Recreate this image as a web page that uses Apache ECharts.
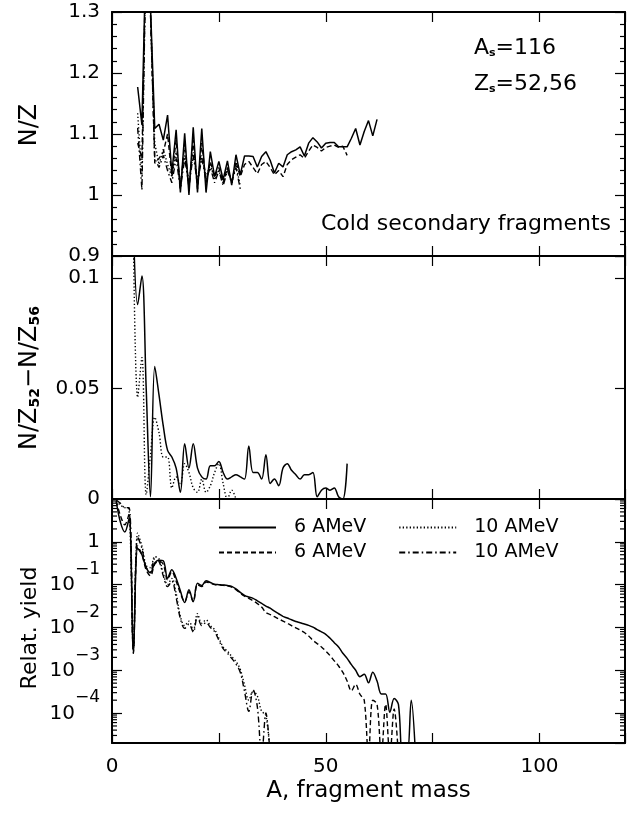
<!DOCTYPE html>
<html><head><meta charset="utf-8">
<script src="https://cdn.jsdelivr.net/npm/echarts@6/dist/echarts.min.js"></script>
<style>html,body{margin:0;padding:0;background:#fff}#c{width:641px;height:820px}</style>
</head><body><div id="c"></div>
<script>
// ---- data (fragment mass A) ----
const massA = [1,2,3,4,5,6,7,8,9,10,11,12,13,14,15,16,17,18,19,20,21,22,23,24,25,26,27,28,29,30,
  31,32,33,34,35,36,37,38,39,40,41,42,43,44,45,46,47,48,49,50,51,52,53,54,55,56,57,58,59,60,
  61,62,63,64,65,66,67,68,69,70,71];

// Panel 1: N/Z of cold secondary fragments
const nz6aStart = 6;
const nz6a = [1.177,1.115,1.42,1.31,1.109,1.116,1.090,1.131,1.036,1.107,
  1.004,1.101,1.000,1.111,1.004,1.109,1.004,1.071,1.030,1.055,
  1.025,1.056,1.016,1.066,1.033,1.064,1.064,1.063,1.046,1.063,
  1.071,1.057,1.036,1.052,1.046,1.066,1.071,1.074,1.079,1.064,
  1.085,1.094,1.087,1.077,1.085,1.086,1.086,1.079,1.079,1.079,
  1.093,1.109,1.082,1.104,1.122,1.097,1.124];
const nz6bStart = 6;
const nz6b = [1.085,1.06,1.42,1.30,1.052,1.06,1.07,1.10,1.03,1.09,
  1.01,1.085,1.01,1.09,1.01,1.085,1.02,1.055,1.03,1.045,
  1.02,1.045,1.02,1.055,1.03,1.05,1.055,1.045,1.035,1.05,
  1.055,1.045,1.033,1.04,1.03,1.05,1.058,1.062,1.066,1.06,
  1.072,1.082,1.078,1.072,1.078,1.08,1.082,1.078,1.08,1.065];
const nz10aStart = 6;
const nz10a = [1.134,1.03,1.42,1.30,1.085,1.05,1.075,1.05,1.03,1.07,
  1.02,1.065,1.02,1.07,1.025,1.065,1.03,1.05,1.025,1.04,
  1.02,1.045,1.02,1.05,1.015];
const nz10bStart = 6;
const nz10b = [1.11,1.008,1.42,1.30,1.06,1.045,1.065,1.04,1.02,1.06,
  1.01,1.06,1.015,1.065,1.02,1.06,1.025,1.045,1.02,1.04,
  1.015,1.04,1.02,1.045,1.01];

// Panel 2: N/Z(52) - N/Z(56)
const dnz6Start = 5;
const dnz6 = [0.125,0.088,0.101,0.05,0.001,0.060,0.047,0.033,0.022,0.019,
  0.014,0.003,0.025,0.014,0.025,0.014,0.010,0.009,0.015,0.015,
  0.017,0.012,0.009,0.010,0.011,0.010,0.009,0.024,0.012,0.012,
  0.009,0.020,0.007,0.009,0.006,0.014,0.016,0.013,0.011,0.009,
  0.011,0.011,0.012,0.001,0.004,0.005,0.004,0.005,0.001,0.000,0.016];
const dnz10Start = 5;
const dnz10 = [0.12,0.046,0.064,0.002,0.02,0.037,0.03,0.019,0.019,0.005,
  0.01,0.007,0.016,0.012,0.005,0.003,0.009,0.003,0.006,0.012,
  0.016,0.007,0.000,0.004,0.000];

// Panel 3: relative yield
const y6aStart = 1;
const y6a = [8.7,2.8,1.7,3.5,2.5e-3,0.71,0.5,0.25,0.19,0.32,
  0.37,0.36,0.14,0.224,0.141,0.071,0.038,0.076,0.040,0.107,
  0.0955,0.123,0.112,0.102,0.100,0.098,0.0955,0.0912,0.0794,0.0661,
  0.0562,0.0513,0.0479,0.0417,0.0363,0.0316,0.0282,0.0240,0.0209,0.0182,
  0.0166,0.0151,0.0138,0.0129,0.0120,0.0112,0.0102,0.0089,0.0079,0.0069,
  0.0056,0.0044,0.0035,0.0025,0.0019,0.00135,0.0010,7.1e-4,8.1e-4,5.1e-4,
  9.0e-4,5.6e-4,2.8e-4,2.8e-4,1.05e-4,2.2e-4,1.6e-4,1e-5,1e-5,2.0e-4,1e-5];
const y6bStart = 1;
const y6b = [9.0,4.0,2.5,4.5,2.5e-3,0.80,0.50,0.22,0.16,0.30,
  0.35,0.30,0.13,0.20,0.12,0.063,0.040,0.068,0.040,0.10,
  0.090,0.115,0.108,0.100,0.098,0.096,0.093,0.088,0.076,0.063,
  0.054,0.048,0.042,0.036,0.030,0.0224,0.020,0.0178,0.0158,0.0141,
  0.0126,0.011,0.0098,0.0087,0.0076,0.0063,0.0050,0.0042,0.0035,0.0028,
  0.0022,0.00166,0.00126,8.9e-4,5.6e-4,3.3e-4,4.7e-4,2.75e-4,2.0e-4,1e-5,
  2.0e-4,1.6e-4,1e-5,1.6e-4,1e-5,1.25e-4,1e-5];
const y10aStart = 1;
const y10a = [9.0,7.1,6.3,5.6,3.2e-3,1.6,0.8,0.28,0.25,0.45,
  0.40,0.18,0.10,0.14,0.063,0.018,0.011,0.014,0.0085,0.021,
  0.0126,0.015,0.011,0.0089,0.0056,0.0035,0.0028,0.0021,0.0016,0.00105,
  4.5e-4,2.0e-4,3.2e-4,2.5e-4,1.1e-4,9e-5,1e-5];
const y10bStart = 1;
const y10b = [9.5,7.9,6.3,6.3,3.2e-3,1.3,0.7,0.25,0.2,0.40,
  0.35,0.16,0.09,0.12,0.05,0.016,0.0095,0.012,0.0078,0.018,
  0.011,0.013,0.010,0.008,0.005,0.0032,0.0025,0.0019,0.0014,9e-4,
  3.2e-4,1.1e-4,3.5e-4,1.4e-4,1e-5,1e-4,1e-5];

const xTickLabels = [0, 50, 100];
// minor tick positions of the logarithmic yield axis (2..9 x 10^n)
const logMinorTicks = [3e-5,4e-5,5e-5,6e-5,7e-5,8e-5,9e-5,
  2e-4,3e-4,4e-4,5e-4,6e-4,7e-4,8e-4,9e-4,
  2e-3,3e-3,4e-3,5e-3,6e-3,7e-3,8e-3,9e-3,
  0.02,0.03,0.04,0.05,0.06,0.07,0.08,0.09,
  0.2,0.3,0.4,0.5,0.6,0.7,0.8,0.9,
  2,3,4,5,6,7,8,9];

// ---- helpers ----
function pairs(start, vals) {
  const i0 = massA.indexOf(start);
  return vals.map((v, i) => [massA[i0 + i], v]);
}
const FONT = 'DejaVu Sans';
const BLACK = '#000';
const txt = { color: BLACK, fontFamily: FONT, fontSize: 20 };
const styles = {
  a6: { color: BLACK, width: 1.5, type: 'solid' },
  b6: { color: BLACK, width: 1.4, type: [5, 3] },
  a10: { color: BLACK, width: 1.4, type: [1.3, 2.2] },
  b10: { color: BLACK, width: 1.4, type: [6, 3, 1.5, 3] }
};
const seriesName = { a6: '6 AMeV a', b6: '6 AMeV b', a10: '10 AMeV a', b10: '10 AMeV b' };

function xAxisPair(gi) {
  const base = {
    type: 'value', gridIndex: gi, min: 0, max: 120, interval: 25,
    axisLine: { show: true, onZero: false, lineStyle: { color: BLACK, width: 2 } },
    axisTick: { show: true, inside: true, length: 10, lineStyle: { color: BLACK, width: 1.2 } },
    splitLine: { show: false }
  };
  const bottom = Object.assign({}, base, { position: 'bottom', axisLabel: { show: false } });
  if (gi === 2) {
    bottom.axisLabel = Object.assign({ show: true, margin: 14 }, txt, {
      formatter: v => xTickLabels.indexOf(v) >= 0 ? String(v) : ''
    });
    bottom.name = 'A, fragment mass';
    bottom.nameLocation = 'middle';
    bottom.nameGap = 37;
    bottom.nameTextStyle = Object.assign({}, txt, { fontSize: 23 });
  }
  const top = Object.assign({}, base, { position: 'top', axisLabel: { show: false } });
  return [bottom, top];
}

function yAxisPair(gi, extra) {
  const base = Object.assign({
    gridIndex: gi,
    axisLine: { show: true, onZero: false, lineStyle: { color: BLACK, width: 2 } },
    axisTick: { show: true, inside: true, length: 10, lineStyle: { color: BLACK, width: 1.2 } },
    splitLine: { show: false }
  }, extra);
  const left = Object.assign({}, base, { position: 'left',
    axisLabel: Object.assign({ show: true, margin: 12 }, txt, extra.axisLabel || {}) });
  const right = Object.assign({}, base, { position: 'right', axisLabel: { show: false } });
  return [left, right];
}

function lineSeries(key, gi, data, smooth) {
  return {
    type: 'line', name: seriesName[key], xAxisIndex: gi * 2, yAxisIndex: gi * 2,
    data: data, showSymbol: false, symbol: 'none', smooth: smooth, clip: true,
    lineStyle: styles[key], itemStyle: { color: BLACK }, animation: false,
    emphasis: { disabled: true }
  };
}

const logLabel = v => {
  const e = Math.round(Math.log10(v));
  if (e === 0) return '1';
  return '{b|10}{s|' + (e < 0 ? '\u2212' : '') + Math.abs(e) + '}';
};

const legendCommon = {
  left: 213, itemWidth: 57, itemHeight: 12, itemGap: 32,
  formatter: n => n.replace(/ [ab]$/, ''), selectedMode: false,
  itemStyle: { opacity: 0 },
  textStyle: Object.assign({}, txt, { fontSize: 19, padding: [0, 0, 0, 13] })
};

const subStyle = { fontFamily: FONT, fontSize: 14, fontWeight: 'bold', fill: BLACK, verticalAlign: 'bottom', padding: [9, 0, 0, 0] };
const smallSub = { fontFamily: FONT, fontSize: 11, fontWeight: 'bold', fill: BLACK, verticalAlign: 'bottom', padding: [8, 0, 0, 0] };

const option = {
  animation: false,
  backgroundColor: '#fff',
  grid: [
    { left: 112, right: 16, top: 12, height: 244 },
    { left: 112, right: 16, top: 256, height: 243 },
    { left: 112, right: 16, top: 499, height: 244 }
  ],
  xAxis: [].concat(xAxisPair(0), xAxisPair(1), xAxisPair(2)),
  yAxis: [].concat(
    yAxisPair(0, { type: 'value', min: 0.9, max: 1.3, interval: 0.1,
      minorTick: { show: true, splitNumber: 5, length: 5, lineStyle: { color: BLACK, width: 1.2 } } }),
    yAxisPair(1, { type: 'value', min: 0, max: 0.11, interval: 0.05,
      axisLabel: { showMaxLabel: false } }),
    yAxisPair(2, { type: 'log', logBase: 10, min: 2e-5, max: 10,
      minorTick: { show: false },
      axisLabel: { showMaxLabel: false, showMinLabel: false, formatter: logLabel,
        rich: {
          b: { fontFamily: FONT, fontSize: 20, color: BLACK, verticalAlign: 'bottom', padding: [0, 0, 13, 0] },
          s: { fontFamily: FONT, fontSize: 17, color: BLACK, verticalAlign: 'top', padding: [0, 0, 30, 0] }
        } } })
  ),
  legend: [
    Object.assign({ data: ['6 AMeV a', '10 AMeV a'], top: 513 }, legendCommon),
    Object.assign({ data: ['6 AMeV b', '10 AMeV b'], top: 538 }, legendCommon)
  ],
  series: [
    lineSeries('a6', 0, pairs(nz6aStart, nz6a), false),
    lineSeries('b6', 0, pairs(nz6bStart, nz6b), false),
    lineSeries('a10', 0, pairs(nz10aStart, nz10a), false),
    lineSeries('b10', 0, pairs(nz10bStart, nz10b), false),
    lineSeries('a6', 1, pairs(dnz6Start, dnz6), 0.35),
    lineSeries('a10', 1, pairs(dnz10Start, dnz10), 0.35),
    lineSeries('a6', 2, pairs(y6aStart, y6a), 0.35),
    lineSeries('b6', 2, pairs(y6bStart, y6b), 0.35),
    lineSeries('a10', 2, pairs(y10aStart, y10a), 0.35),
    lineSeries('b10', 2, pairs(y10bStart, y10b), 0.35),
    {
      type: 'custom', name: 'logMinorTicks', xAxisIndex: 4, yAxisIndex: 4, silent: true,
      animation: false, clip: false, z: 5,
      data: logMinorTicks.map(v => [0, v]),
      encode: { x: 0, y: 1 },
      renderItem: (params, api) => {
        const v = api.value(1);
        const pL = api.coord([0, v]);
        const pR = api.coord([120, v]);
        return { type: 'group', children: [
          { type: 'line', shape: { x1: pL[0], y1: pL[1], x2: pL[0] + 5, y2: pL[1] }, style: { stroke: BLACK, lineWidth: 1.2 } },
          { type: 'line', shape: { x1: pR[0] - 5, y1: pR[1], x2: pR[0], y2: pR[1] }, style: { stroke: BLACK, lineWidth: 1.2 } }
        ] };
      }
    }
  ],
  graphic: [
    { type: 'text', x: 30, y: 125, rotation: Math.PI / 2,
      style: { text: 'N/Z', fontFamily: FONT, fontSize: 24, fill: BLACK, align: 'center', verticalAlign: 'middle' } },
    { type: 'text', x: 30, y: 378, rotation: Math.PI / 2,
      style: { text: 'N/Z{s|52}\u2212N/Z{s|56}', fontFamily: FONT, fontSize: 24, fill: BLACK,
        align: 'center', verticalAlign: 'middle', rich: { s: subStyle } } },
    { type: 'text', x: 30, y: 628, rotation: Math.PI / 2,
      style: { text: 'Relat. yield', fontFamily: FONT, fontSize: 22, fill: BLACK, align: 'center', verticalAlign: 'middle' } },
    { type: 'text', x: 474, y: 48,
      style: { text: 'A{s|s}=116', fontFamily: FONT, fontSize: 22, fill: BLACK, align: 'left', verticalAlign: 'middle',
        rich: { s: smallSub } } },
    { type: 'text', x: 474, y: 84,
      style: { text: 'Z{s|s}=52,56', fontFamily: FONT, fontSize: 22, fill: BLACK, align: 'left', verticalAlign: 'middle',
        rich: { s: smallSub } } },
    { type: 'text', x: 611, y: 224,
      style: { text: 'Cold secondary fragments', fontFamily: FONT, fontSize: 22, fill: BLACK, align: 'right', verticalAlign: 'middle' } }
  ]
};

const chart = echarts.init(document.getElementById('c'), null, { renderer: 'canvas' });
chart.setOption(option);
</script>
</body></html>
